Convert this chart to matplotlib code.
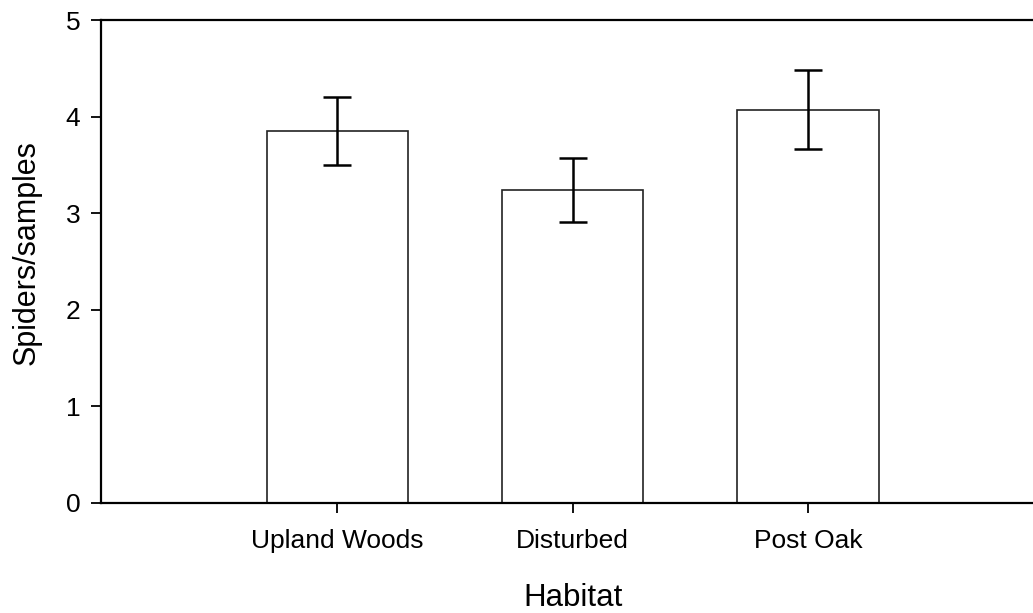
import matplotlib
matplotlib.use("Agg")
import matplotlib.pyplot as plt
import numpy as np

categories = ["Upland Woods", "Disturbed", "Post Oak"]
means = [3.85, 3.24, 4.07]
errors = [0.355, 0.33, 0.41]
yticks = [0, 1, 2, 3, 4, 5]

plt.rcParams['font.family'] = ['Liberation Sans', 'DejaVu Sans']

fig = plt.figure(figsize=(10.33, 6.13), dpi=100)
ax = fig.add_axes([101/1033, 1 - 503/613, 1 - 101/1033, (503 - 20)/613])

x = np.arange(len(categories))
ax.bar(x, means, width=0.6, color="white", edgecolor="#222222", linewidth=1.2, zorder=2)
ax.errorbar(x, means, yerr=errors, fmt="none", ecolor="black", elinewidth=1.8,
            capsize=10, capthick=1.8, zorder=3)

ax.set_xlim(-1.005, 2.956)
ax.set_ylim(0, 5)
ax.set_yticks(yticks)
ax.set_yticklabels([str(t) for t in yticks])
ax.set_xticks(x)
ax.set_xticklabels(categories)

for s in ["left", "top", "bottom"]:
    ax.spines[s].set_linewidth(1.6)
ax.spines["right"].set_visible(False)

ax.tick_params(axis="y", direction="out", length=7, width=1.3, labelsize=19, pad=8)
ax.tick_params(axis="x", direction="out", length=7.5, width=1.3, labelsize=19, pad=11)

ax.set_xlabel("Habitat", fontsize=22.5, labelpad=22)
ax.set_ylabel("Spiders/samples", fontsize=22, labelpad=17)
ax.xaxis.label.set_x(0.5064)
ax.yaxis.label.set_y(0.518)

fig.savefig("out.png", dpi=100)
